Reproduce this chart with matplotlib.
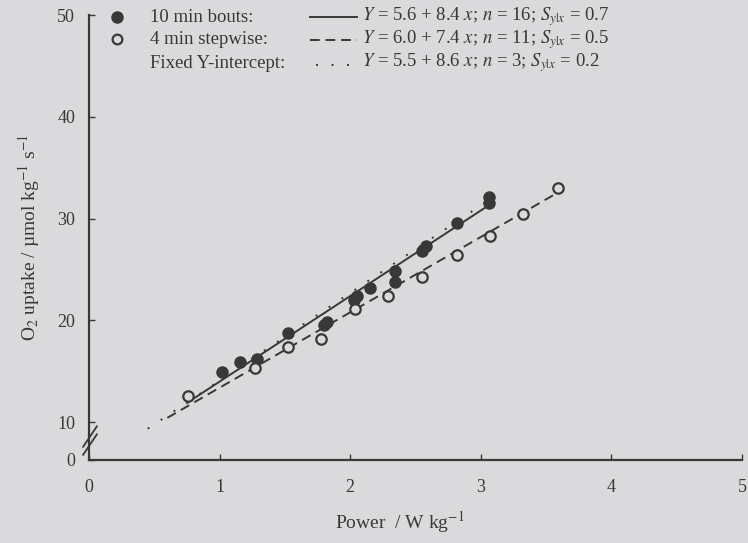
import numpy as np
import matplotlib.pyplot as plt

plt.rcParams['font.family'] = ['Liberation Serif', 'DejaVu Serif']
plt.rcParams['mathtext.fontset'] = 'stix'

# -------------------------
# Dane
# -------------------------
bouts_x = [1.02, 1.16, 1.29, 1.52, 1.80, 1.82, 2.03, 2.05, 2.15, 2.34, 2.34, 2.55, 2.58, 2.82, 3.06, 3.06]
bouts_y = [14.9, 15.9, 16.2, 18.8, 19.6, 19.9, 22.0, 22.4, 23.2, 23.8, 24.9, 26.8, 27.3, 29.6, 31.5, 32.1]

step_x = [0.76, 1.27, 1.52, 1.78, 2.04, 2.29, 2.55, 2.82, 3.07, 3.32, 3.59]
step_y = [12.6, 15.3, 17.4, 18.2, 21.1, 22.4, 24.3, 26.4, 28.3, 30.5, 33.0]

# regresje: Y = a + b x
fit_names = ['10 min bouts:', '4 min stepwise:', 'Fixed Y-intercept:']
fit_a = [5.6, 6.0, 5.5]
fit_b = [8.4, 7.4, 8.6]
fit_n = [16, 11, 3]
fit_s = [0.7, 0.5, 0.2]
fit_range = [(0.75, 3.1), (0.6, 3.6), (0.45, 3.1)]

ink = '#383838'
paper = '#dadadc'

W, H = 748, 543
fig = plt.figure(figsize=(W / 100, H / 100), dpi=100, facecolor=paper)
ax = fig.add_axes([89 / W, 1 - 460 / H, (742 - 89) / W, (460 - 15) / H])
ax.set_facecolor(paper)

styles = ['-', (0, (5, 3)), (0, (1, 7))]
for a, b, (x0, x1), ls in zip(fit_a, fit_b, fit_range, styles):
    xx = np.linspace(x0, x1, 50)
    ax.plot(xx, a + b * xx, color=ink, lw=1.4, ls=ls)

ax.plot(bouts_x, bouts_y, 'o', color=ink, ms=8, mec=ink)
ax.plot(step_x, step_y, 'o', mfc=paper, mec=ink, mew=1.6, ms=7.5)

y0 = 6.3
ax.set_xlim(0, 5)
ax.set_ylim(y0, 50)
ax.set_xticks([0, 1, 2, 3, 4, 5])
ax.set_yticks([y0, 10, 20, 30, 40, 50])
ax.set_yticklabels(['0', '10', '20', '30', '40', '50'])
ax.tick_params(direction='in', length=4, width=1, colors=ink, labelsize=13)
ax.tick_params(axis='x', pad=14)
ax.tick_params(axis='y', pad=10)
for s in ['top', 'right']:
    ax.spines[s].set_visible(False)
for s in ['left', 'bottom']:
    ax.spines[s].set_color(ink)
    ax.spines[s].set_linewidth(1.6)

# przerwa osi Y
for dy in [0, 8]:
    ax.plot([-0.045, 0.06], [7.6 - dy / 10.2, 9.6 - dy / 10.2], color=ink, lw=1.3,
            clip_on=False)

ax.set_xlabel('Power  / W kg$^{-1}$', fontsize=14, color=ink)
ax.xaxis.set_label_coords(0.476, -0.11)
ax.set_ylabel('O$_2$ uptake / µmol kg$^{-1}$ s$^{-1}$', fontsize=14, color=ink)
ax.yaxis.set_label_coords(-0.072, 0.5)


def px(x, y):
    return x / W, 1 - y / H


# legenda
fig.text(*px(150, 17), fit_names[0], fontsize=13.5, color=ink, va='center')
fig.text(*px(150, 40), fit_names[1], fontsize=13.5, color=ink, va='center')
fig.text(*px(150, 63), fit_names[2], fontsize=13.5, color=ink, va='center')
fig.lines.append(plt.Line2D([117 / W], [1 - 17 / H], marker='o', color=ink, ms=8,
                            transform=fig.transFigure))
fig.lines.append(plt.Line2D([117 / W], [1 - 39 / H], marker='o', mfc=paper, mec=ink,
                            mew=1.6, ms=7, transform=fig.transFigure))
for i, (yy, ls) in enumerate(zip([17, 40, 65], styles)):
    x0, x1 = (310, 357) if i < 2 else (316, 352)
    fig.lines.append(plt.Line2D([x0 / W, x1 / W], [1 - yy / H] * 2, color=ink, lw=1.4,
                                ls=ls, transform=fig.transFigure))
for i, yy in enumerate([17, 40, 63]):
    txt = (r'$Y$ = %.1f + %.1f $x$; $n$ = %d; $S_{y|x}$ = %.1f'
           % (fit_a[i], fit_b[i], fit_n[i], fit_s[i]))
    fig.text(*px(362, yy), txt, fontsize=13.5, color=ink, va='center')

fig.savefig('out.png', dpi=100, facecolor=paper)
